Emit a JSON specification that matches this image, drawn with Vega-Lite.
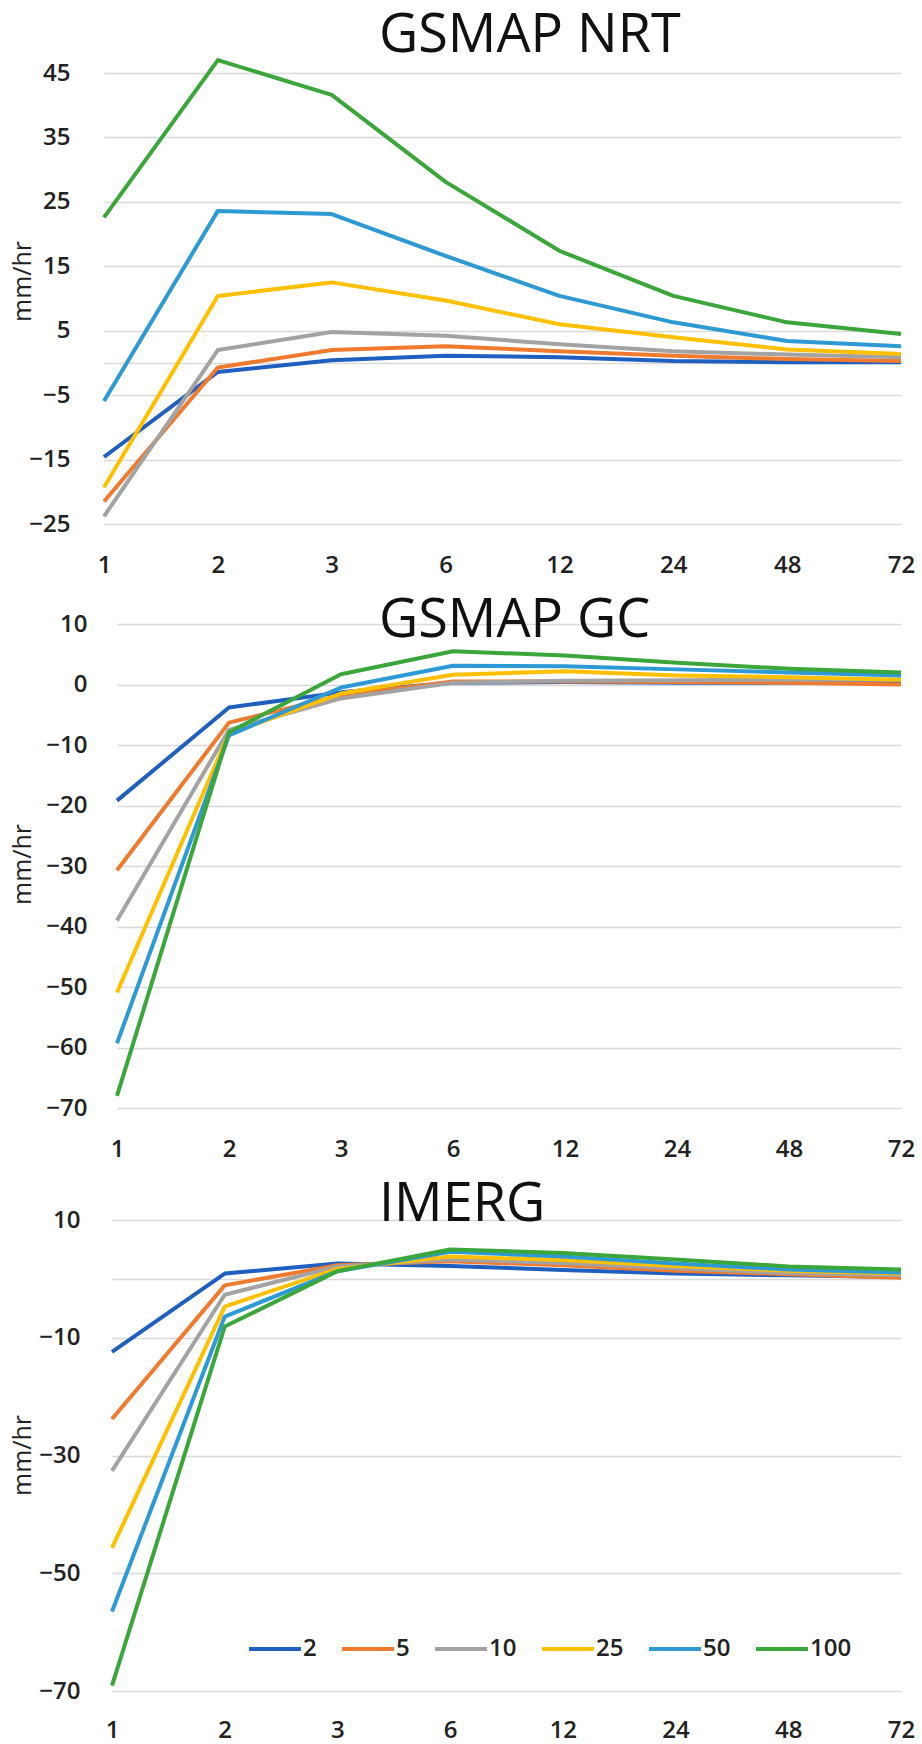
{
  "$schema": "https://vega.github.io/schema/vega-lite/v6.json",
  "background": "white",
  "padding": {"left": 10, "top": 9, "right": 6, "bottom": 8},
  "datasets": {
    "nrt": [
      {"d":"1","rp":"2","v":-14.6},{"d":"2","rp":"2","v":-1.4},{"d":"3","rp":"2","v":0.4},{"d":"6","rp":"2","v":1.1},{"d":"12","rp":"2","v":0.9},{"d":"24","rp":"2","v":0.3},{"d":"48","rp":"2","v":0.1},{"d":"72","rp":"2","v":0.1},
      {"d":"1","rp":"5","v":-21.5},{"d":"2","rp":"5","v":-0.7},{"d":"3","rp":"5","v":2.0},{"d":"6","rp":"5","v":2.6},{"d":"12","rp":"5","v":1.8},{"d":"24","rp":"5","v":1.1},{"d":"48","rp":"5","v":0.6},{"d":"72","rp":"5","v":0.3},
      {"d":"1","rp":"10","v":-23.8},{"d":"2","rp":"10","v":2.0},{"d":"3","rp":"10","v":4.8},{"d":"6","rp":"10","v":4.2},{"d":"12","rp":"10","v":2.9},{"d":"24","rp":"10","v":1.8},{"d":"48","rp":"10","v":1.3},{"d":"72","rp":"10","v":0.9},
      {"d":"1","rp":"25","v":-19.3},{"d":"2","rp":"25","v":10.4},{"d":"3","rp":"25","v":12.5},{"d":"6","rp":"25","v":9.7},{"d":"12","rp":"25","v":6.0},{"d":"24","rp":"25","v":4.0},{"d":"48","rp":"25","v":2.1},{"d":"72","rp":"25","v":1.4},
      {"d":"1","rp":"50","v":-5.9},{"d":"2","rp":"50","v":23.6},{"d":"3","rp":"50","v":23.1},{"d":"6","rp":"50","v":16.6},{"d":"12","rp":"50","v":10.4},{"d":"24","rp":"50","v":6.3},{"d":"48","rp":"50","v":3.4},{"d":"72","rp":"50","v":2.6},
      {"d":"1","rp":"100","v":22.6},{"d":"2","rp":"100","v":47.0},{"d":"3","rp":"100","v":41.6},{"d":"6","rp":"100","v":28.1},{"d":"12","rp":"100","v":17.4},{"d":"24","rp":"100","v":10.4},{"d":"48","rp":"100","v":6.3},{"d":"72","rp":"100","v":4.5}
    ],
    "gc": [
      {"d":"1","rp":"2","v":-19.2},{"d":"2","rp":"2","v":-3.8},{"d":"3","rp":"2","v":-1.3},{"d":"6","rp":"2","v":0.3},{"d":"12","rp":"2","v":0.4},{"d":"24","rp":"2","v":0.3},{"d":"48","rp":"2","v":0.3},{"d":"72","rp":"2","v":0.3},
      {"d":"1","rp":"5","v":-30.7},{"d":"2","rp":"5","v":-6.3},{"d":"3","rp":"5","v":-1.8},{"d":"6","rp":"5","v":0.5},{"d":"12","rp":"5","v":0.5},{"d":"24","rp":"5","v":0.4},{"d":"48","rp":"5","v":0.3},{"d":"72","rp":"5","v":0.0},
      {"d":"1","rp":"10","v":-39.0},{"d":"2","rp":"10","v":-7.5},{"d":"3","rp":"10","v":-2.3},{"d":"6","rp":"10","v":0.3},{"d":"12","rp":"10","v":0.6},{"d":"24","rp":"10","v":0.7},{"d":"48","rp":"10","v":0.8},{"d":"72","rp":"10","v":0.8},
      {"d":"1","rp":"25","v":-50.9},{"d":"2","rp":"25","v":-8.1},{"d":"3","rp":"25","v":-1.5},{"d":"6","rp":"25","v":1.6},{"d":"12","rp":"25","v":2.2},{"d":"24","rp":"25","v":1.5},{"d":"48","rp":"25","v":1.2},{"d":"72","rp":"25","v":0.8},
      {"d":"1","rp":"50","v":-59.3},{"d":"2","rp":"50","v":-8.4},{"d":"3","rp":"50","v":-0.5},{"d":"6","rp":"50","v":3.1},{"d":"12","rp":"50","v":3.0},{"d":"24","rp":"50","v":2.5},{"d":"48","rp":"50","v":2.0},{"d":"72","rp":"50","v":1.5},
      {"d":"1","rp":"100","v":-68.0},{"d":"2","rp":"100","v":-7.9},{"d":"3","rp":"100","v":1.7},{"d":"6","rp":"100","v":5.5},{"d":"12","rp":"100","v":4.8},{"d":"24","rp":"100","v":3.6},{"d":"48","rp":"100","v":2.6},{"d":"72","rp":"100","v":2.0}
    ],
    "imerg": [
      {"d":"1","rp":"2","v":-12.4},{"d":"2","rp":"2","v":0.9},{"d":"3","rp":"2","v":2.6},{"d":"6","rp":"2","v":2.2},{"d":"12","rp":"2","v":1.5},{"d":"24","rp":"2","v":0.9},{"d":"48","rp":"2","v":0.6},{"d":"72","rp":"2","v":0.3},
      {"d":"1","rp":"5","v":-23.8},{"d":"2","rp":"5","v":-1.1},{"d":"3","rp":"5","v":2.3},{"d":"6","rp":"5","v":3.0},{"d":"12","rp":"5","v":2.3},{"d":"24","rp":"5","v":1.4},{"d":"48","rp":"5","v":0.8},{"d":"72","rp":"5","v":0.2},
      {"d":"1","rp":"10","v":-32.6},{"d":"2","rp":"10","v":-2.7},{"d":"3","rp":"10","v":2.1},{"d":"6","rp":"10","v":3.3},{"d":"12","rp":"10","v":2.7},{"d":"24","rp":"10","v":1.8},{"d":"48","rp":"10","v":1.0},{"d":"72","rp":"10","v":0.6},
      {"d":"1","rp":"25","v":-45.7},{"d":"2","rp":"25","v":-4.7},{"d":"3","rp":"25","v":1.7},{"d":"6","rp":"25","v":3.8},{"d":"12","rp":"25","v":3.2},{"d":"24","rp":"25","v":2.2},{"d":"48","rp":"25","v":1.4},{"d":"72","rp":"25","v":0.9},
      {"d":"1","rp":"50","v":-56.5},{"d":"2","rp":"50","v":-6.4},{"d":"3","rp":"50","v":1.3},{"d":"6","rp":"50","v":4.6},{"d":"12","rp":"50","v":3.8},{"d":"24","rp":"50","v":2.6},{"d":"48","rp":"50","v":1.6},{"d":"72","rp":"50","v":1.1},
      {"d":"1","rp":"100","v":-69.1},{"d":"2","rp":"100","v":-8.1},{"d":"3","rp":"100","v":1.3},{"d":"6","rp":"100","v":5.0},{"d":"12","rp":"100","v":4.4},{"d":"24","rp":"100","v":3.3},{"d":"48","rp":"100","v":2.1},{"d":"72","rp":"100","v":1.6}
    ]
  },
  "columns": 1,
  "bounds": "full",
  "spacing": 17,
  "resolve": {"scale": {"x": "independent", "y": "independent", "color": "independent"}, "legend": {"color": "independent"}},
  "concat": [
    {
      "width": 797, "height": 451,
      "title": {"text": "GSMAP NRT", "anchor": "start", "frame": "group", "dx": 275, "offset": -48, "baseline": "alphabetic"},
      "data": {"name": "nrt"},
      "mark": {"type": "line", "strokeWidth": 4, "strokeJoin": "round"},
      "encoding": {
        "x": {"field": "d", "type": "ordinal", "scale": {"type": "point", "padding": 0, "domain": ["1","2","3","6","12","24","48","72"]}, "axis": {"title": null}},
        "y": {"field": "v", "type": "quantitative", "scale": {"domain": [-25, 45], "nice": false, "zero": false},
              "axis": {"values": [-25,-15,-5,0,5,15,25,35,45], "labelExpr": "datum.value == 0 ? '' : datum.label", "title": "mm/hr", "titleX": -82, "titleY": 208, "labelPadding": 34}},
        "color": {"field": "rp", "type": "nominal", "scale": {"domain": ["2","5","10","25","50","100"], "range": ["#1F5FBF","#F07B2F","#A3A3A3","#FFC000","#2D9AD6","#3BA73B"]}, "legend": null}
      }
    },
    {
      "width": 797, "height": 484,
      "title": {"text": "GSMAP GC", "anchor": "start", "frame": "group", "dx": 275, "offset": -79, "baseline": "alphabetic"},
      "data": {"name": "gc"},
      "mark": {"type": "line", "strokeWidth": 4, "strokeJoin": "round"},
      "encoding": {
        "x": {"field": "d", "type": "ordinal", "scale": {"type": "point", "padding": 0, "range": [13, 797], "domain": ["1","2","3","6","12","24","48","72"]}, "axis": {"title": null}},
        "y": {"field": "v", "type": "quantitative", "scale": {"domain": [-70, 10], "nice": false, "zero": false},
              "axis": {"values": [-70,-60,-50,-40,-30,-20,-10,0,10], "title": "mm/hr", "titleX": -82, "titleY": 240, "labelPadding": 17}},
        "color": {"field": "rp", "type": "nominal", "scale": {"domain": ["2","5","10","25","50","100"], "range": ["#1F5FBF","#F07B2F","#A3A3A3","#FFC000","#2D9AD6","#3BA73B"]}, "legend": null}
      }
    },
    {
      "width": 797, "height": 471,
      "title": {"text": "IMERG", "anchor": "start", "frame": "group", "dx": 275, "offset": -67, "baseline": "alphabetic"},
      "data": {"name": "imerg"},
      "mark": {"type": "line", "strokeWidth": 4, "strokeJoin": "round"},
      "encoding": {
        "x": {"field": "d", "type": "ordinal", "scale": {"type": "point", "padding": 0, "range": [8, 797], "domain": ["1","2","3","6","12","24","48","72"]}, "axis": {"title": null, "labelPadding": 27}},
        "y": {"field": "v", "type": "quantitative", "scale": {"domain": [-70, 10], "nice": false, "zero": false},
              "axis": {"values": [-70,-50,-30,-10,0,10], "labelExpr": "datum.value == 0 ? '' : datum.label", "title": "mm/hr", "titleX": -82, "titleY": 235, "labelPadding": 24}},
        "color": {"field": "rp", "type": "nominal", "scale": {"domain": ["2","5","10","25","50","100"], "range": ["#1F5FBF","#F07B2F","#A3A3A3","#FFC000","#2D9AD6","#3BA73B"]},
                  "legend": {"orient": "none", "legendX": 143, "legendY": 401, "direction": "horizontal", "title": null, "symbolType": "stroke", "symbolStrokeWidth": 4, "symbolSize": 2700, "labelFontSize": 24, "labelFontWeight": 600, "labelColor": "#222222", "labelOffset": 0, "columnPadding": 17, "padding": 0}}
      }
    }
  ],
  "config": {
    "font": "Open Sans",
    "view": {"stroke": null},
    "title": {"fontSize": 54, "fontWeight": "normal", "color": "#111111", "font": "Open Sans"},
    "axisX": {"labelAngle": 0, "ticks": false, "domain": false, "grid": false, "labelFontSize": 24, "labelFontWeight": 600, "labelColor": "#222222", "labelPadding": 29},
    "axisY": {"ticks": false, "domain": false, "grid": true, "gridColor": "#D9D9D9", "gridWidth": 1.5, "labelFontSize": 24, "labelFontWeight": 600, "labelColor": "#222222", "labelPadding": 30, "titleFontSize": 25, "titleFontWeight": "normal", "titleColor": "#222222", "titleBaseline": "middle", "titleAngle": 270}
  }
}
